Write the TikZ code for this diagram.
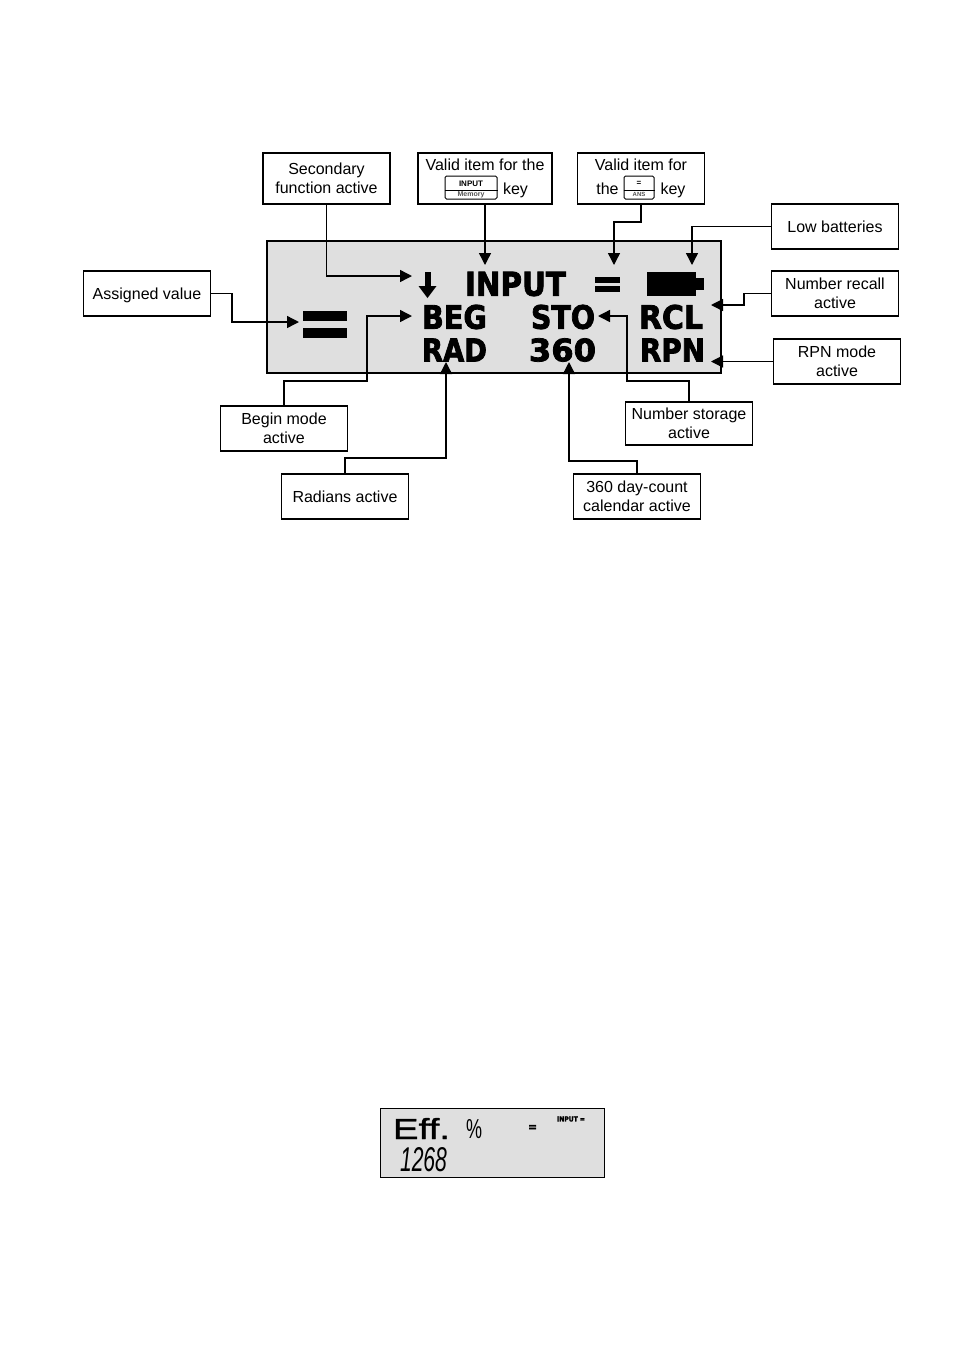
\documentclass[tikz,border=0pt]{standalone}
\usepackage{fontspec}
\setmainfont{Liberation Sans}
\newfontfamily\lcdfont[FakeBold=2.5]{DejaVu Sans Bold}
\newfontfamily\thinfont{Liberation Sans}
\newfontfamily\midfont[FakeBold=1.2]{Liberation Sans}
\usetikzlibrary{arrows.meta,positioning,calc}
\definecolor{LcdGray}{HTML}{DFDFDF}
\definecolor{KeyGray}{HTML}{555555}
\newcommand{\lcdword}[3]{\resizebox{#1pt}{#2pt}{\lcdfont #3}}
\tikzset{
  boxnode/.style={draw=black,line width=1.3pt,fill=white,minimum width=127pt,inner sep=0pt,align=center,font=\fontsize{16}{19}\selectfont},
  onelinebox/.style={boxnode,text height=13pt,text depth=2pt},
  lcdpanel/.style={draw=black,line width=1.4pt,fill=LcdGray,inner sep=0pt},
  lcdtag/.style={inner sep=0pt,text=black},
  keynode/.style={draw=black,line width=1pt,fill=white,rounded corners=1.5pt,inner sep=0pt},
  pointer/.style={line width=1.4pt,-{Triangle[length=12pt,width=12pt]}},
  plainword/.style={inner sep=0pt,font=\fontsize{16}{19}\selectfont}
}
\begin{document}
\begin{tikzpicture}[x=1pt,y=-1pt]
        \useasboundingbox (0,0) rectangle (954,1350);
        \fill[white] (0,0) rectangle (954,1350);
        % large display
        \node[lcdpanel,minimum width=454pt,minimum height=132pt] (panel) at (494,307) {};
        \fill (424.5,272) rectangle (430.5,288);
        \fill (418.5,286) -- (436.5,286) -- (427.5,298) -- cycle;
        \node[lcdtag] (inputword) at (515.5,284) {\lcdword{101}{24}{INPUT}};
        \fill (595,277) rectangle (620,283);
        \fill (595,286) rectangle (620,292);
        \fill (647,272) rectangle (696,296);
        \fill (696,278) rectangle (704,290);
        \fill (303,311) rectangle (347,321);
        \fill (303,328) rectangle (347,338);
        \node[lcdtag] (begword) at (454.5,317) {\lcdword{65}{24}{BEG}};
        \node[lcdtag] (stoword) at (563,317) {\lcdword{64}{24}{STO}};
        \node[lcdtag] (rclword) at (671,317) {\lcdword{64}{24}{RCL}};
        \node[lcdtag] (radword) at (454.5,350) {\lcdword{65}{23}{RAD}};
        \node[lcdtag] (numword) at (562.5,350) {\lcdword{67}{23}{360}};
        \node[lcdtag] (rpnword) at (672.5,350) {\lcdword{65}{23}{RPN}};
        % callouts
        \node[boxnode,minimum height=51pt] (secondbox) at (326.5,178.5) {Secondary\\function active};
        \node[boxnode,minimum width=134pt,minimum height=51pt] (inputbox) at (485,178.5) {};
        \node[boxnode,minimum height=51pt] (equalbox) at (641,178.5) {};
        \node[onelinebox,minimum height=45pt] (lowbox) at (835,226.5) {Low batteries};
        \node[boxnode,minimum height=45pt] (recallbox) at (835,293.5) {Number recall\\active};
        \node[boxnode,minimum height=45pt] (rpnbox) at (837,361.5) {RPN mode\\active};
        \node[onelinebox,minimum height=45pt] (assignbox) at (147,293.5) {Assigned value};
        \node[boxnode,minimum height=45pt] (beginbox) at (284,428.5) {Begin mode\\active};
        \node[boxnode,minimum height=43pt] (storebox) at (689,423.5) {Number storage\\active};
        \node[onelinebox,minimum height=45pt] (radiansbox) at (345,496.5) {Radians active};
        \node[boxnode,minimum height=45pt] (daybox) at (637,496.5) {360 day-count\\calendar active};
        % text and keys inside the two upper boxes
        \node[plainword] (inputline) at (485,165) {Valid item for the};
        \node[keynode,minimum width=52pt,minimum height=23pt] (inputkey) at (471,187.5) {};
        \draw[line width=0.8pt] (inputkey.west |- 0,190) -- (inputkey.east |- 0,190);
        \node[inner sep=0pt,font=\fontsize{8}{8}\selectfont\bfseries] (inputtop) at (471,183.5) {INPUT};
        \node[inner sep=0pt,font=\fontsize{7}{7}\selectfont\bfseries,text=KeyGray] (inputlow) at (471,194.5) {Memory};
        \node[plainword] (inputtail) at (515.5,190) {key};
        \node[plainword] (equalline) at (641,165) {Valid item for};
        \node[plainword] (equalhead) at (607.5,189) {the};
        \node[keynode,minimum width=30pt,minimum height=23pt] (equalkey) at (639,187.5) {};
        \draw[line width=0.8pt] (equalkey.west |- 0,190) -- (equalkey.east |- 0,190);
        \node[inner sep=0pt,font=\fontsize{8}{8}\selectfont\bfseries] (equaltop) at (639,183.5) {=};
        \node[inner sep=0pt,font=\fontsize{6}{6}\selectfont\bfseries,text=KeyGray] (equallow) at (639,194.5) {ANS};
        \node[plainword] (equaltail) at (673,190) {key};
        % connector ends
        \coordinate (secondtip) at (412,276);
        \coordinate (inputtip) at (485,265);
        \coordinate (equalbend) at (614,222);
        \coordinate (equaltip) at (614,265);
        \coordinate (lowtip) at (692,265);
        \coordinate (recallbend) at (744,305);
        \coordinate (recalltip) at (711,305);
        \coordinate (rpntip) at (711,361.5);
        \coordinate (assignbend) at (232,322);
        \coordinate (assigntip) at (299,322);
        \coordinate (beginbend) at (367,381);
        \coordinate (begintip) at (412,316);
        \coordinate (storebend) at (627,381);
        \coordinate (storetip) at (598,316);
        \coordinate (radiansbend) at (446,458);
        \coordinate (radianstip) at (446,362);
        \coordinate (daybend) at (569,461);
        \coordinate (daytip) at (569,362);
        \draw[pointer] (secondbox.south) |- (secondtip);
        \draw[pointer] (inputbox.south) -- (inputtip);
        \draw[pointer] (equalbox.south) |- (equalbend) -- (equaltip);
        \draw[pointer] (lowbox.west) -| (lowtip);
        \draw[pointer] (recallbox.west) -| (recallbend) -- (recalltip);
        \draw[pointer] (rpnbox.west) -- (rpntip);
        \draw[pointer] (assignbox.east) -| (assignbend) -- (assigntip);
        \draw[pointer] (beginbox.north) |- (beginbend) |- (begintip);
        \draw[pointer] (storebox.north) |- (storebend) |- (storetip);
        \draw[pointer] (radiansbox.north) |- (radiansbend) -- (radianstip);
        \draw[pointer] (daybox.north) |- (daybend) -- (daytip);
        % small display
        \node[lcdpanel,line width=1pt,minimum width=224pt,minimum height=69pt] (smallpanel) at (492,1142.5) {};
        \node[lcdtag] (effword) at (421.5,1128.5) {\resizebox{57pt}{21pt}{\midfont Eff.}};
        \node[lcdtag] (pctword) at (474,1129.5) {\resizebox{16pt}{19pt}{\thinfont\%}};
        \node[lcdtag] (eqword) at (532.5,1128) {\resizebox{9pt}{6pt}{\lcdfont =}};
        \node[lcdtag] (tinyword) at (571,1119) {\resizebox{28pt}{5pt}{\lcdfont INPUT =}};
        \node[lcdtag] (countword) at (423.5,1160) {\resizebox{47pt}{24pt}{\thinfont\itshape 1268}};
\end{tikzpicture}
\end{document}
